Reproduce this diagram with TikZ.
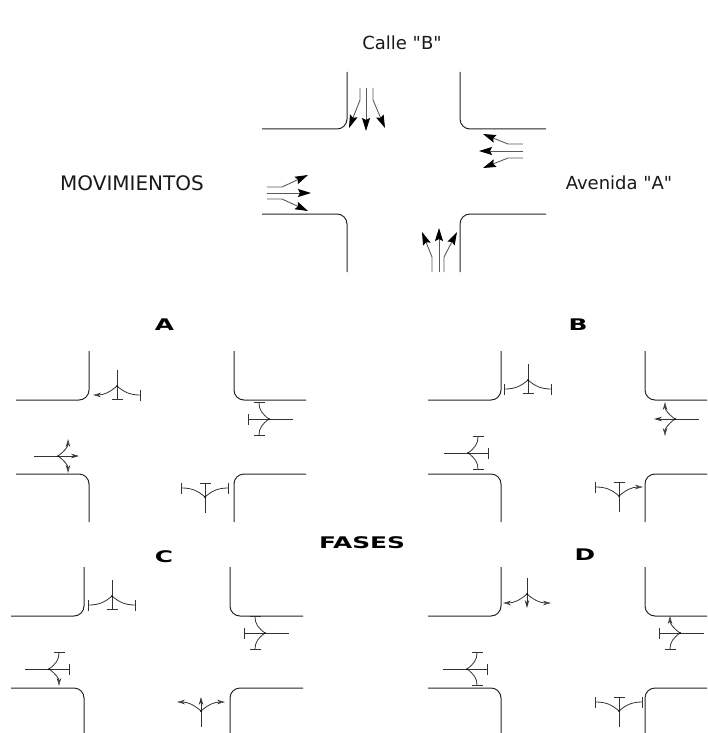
\documentclass[tikz,border=0pt]{standalone}
\usepackage{fontspec}
\setmainfont{DejaVu Sans}[Ligatures=TeXOff]
\usetikzlibrary{arrows.meta}

\tikzset{
    x=1pt, y=-1pt,
    calle/.style={draw=black!85, line width=1pt, rounded corners=10pt},
    flujo/.style={draw=black!65, line width=0.9pt, -{Stealth[length=13pt,width=8pt,inset=2pt,color=black]}},
    ramal/.style={draw=black!80, line width=0.8pt},
    stp/.style={-{Bar[width=11pt,line width=1pt]}},
    mov/.style={-{Stealth[length=8pt,width=4.5pt,open,line width=0.7pt]}},
    fil/.style={-{Stealth[length=8pt,width=4.5pt]}},
    rotulo/.style={font=\fontsize{18}{20}\selectfont, text=black!90, inner sep=0pt},
    fase/.style={font=\fontsize{16}{18}\selectfont\bfseries, xscale=1.55, inner sep=0pt},
}

% streets: x left, x inner left, x inner right, x right, y top, y inner top, y inner bottom, y bottom
\newcommand{\calles}[8]{
    \draw[calle] (#1,#6) -- (#2,#6) -- (#2,#5);
    \draw[calle] (#3,#5) -- (#3,#6) -- (#4,#6);
    \draw[calle] (#1,#7) -- (#2,#7) -- (#2,#8);
    \draw[calle] (#3,#8) -- (#3,#7) -- (#4,#7);
}

% phase fork: position, angle, stem, straight, forward, lateral, left end, straight end, right end
\newcommand{\horquilla}[9]{
    \begin{scope}[shift={(#1)}, rotate=#2]
        \draw[ramal] (-#3,0) -- (0,0);
        \draw[ramal, #8] (0,0) -- (#4,0);
        \draw[ramal, #7] (0,0) .. controls (0.7*#5,-0.3*#6) and (#5,-0.55*#6) .. (#5,-#6);
        \draw[ramal, #9] (0,0) .. controls (0.7*#5,0.3*#6) and (#5,0.55*#6) .. (#5,#6);
        \fill[black] (0,0) circle (1pt);
    \end{scope}
}
\newcommand{\fv}[5]{\horquilla{#1}{#2}{16}{14}{9}{24}{#3}{#4}{#5}}
\newcommand{\fh}[5]{\horquilla{#1}{#2}{24}{21}{10}{17}{#3}{#4}{#5}}

\begin{document}
\begin{tikzpicture}
    \useasboundingbox (0,0) rectangle (707,733);
    \clip (0,0) rectangle (707,733);

    % Movements
    \node[rotulo] (calleb) at (402,43) {Calle "B"};
    \node[rotulo, font=\fontsize{20}{22}\selectfont] (movimientos) at (132,183) {MOVIMIENTOS};
    \node[rotulo] (avenidaa) at (619,183) {Avenida "A"};

    \calles{262}{347}{460}{546}{72}{129}{214}{272}

    \draw[flujo] (360,88) -- (360,100) -- (349,128);
    \draw[flujo] (366,88) -- (366,131);
    \draw[flujo] (373,88) -- (373,100) -- (385,128);

    \draw[flujo] (523,144) -- (508,144) -- (483,134);
    \draw[flujo] (523,151) -- (479,151);
    \draw[flujo] (523,158) -- (508,158) -- (483,168);

    \draw[flujo] (267,187) -- (282,187) -- (308,175);
    \draw[flujo] (267,193) -- (311,193);
    \draw[flujo] (267,199) -- (282,199) -- (308,211);

    \draw[flujo] (432,272) -- (432,257) -- (422,232);
    \draw[flujo] (439,272) -- (439,228);
    \draw[flujo] (444,272) -- (444,257) -- (457,232);

    % Phases
    \node[fase] (fases) at (362,543) {FASES};
    \node[fase] (fasea) at (164.5,325) {A};
    \node[fase] (faseb) at (578,325) {B};
    \node[fase] (fasec) at (164,557) {C};
    \node[fase] (fased) at (585,555) {D};

    % phase A
    \calles{16}{89}{234}{306}{351}{400}{474}{522}
    \fv{117,386}{-90}{stp}{stp}{mov}
    \fh{269,419}{180}{stp}{stp}{stp}
    \fh{58,456}{0}{mov}{fil}{mov}
    \fv{205,497}{90}{stp}{stp}{stp}

    % phase B
    \calles{428}{501}{645}{720}{351}{400}{474}{522}
    \fv{528,380}{-90}{stp}{stp}{stp}
    \fh{675,419}{180}{mov}{fil}{mov}
    \fh{468,453}{0}{stp}{stp}{stp}
    \fv{619,496}{90}{stp}{stp}{mov}

    % phase C
    \calles{11}{84}{230}{303}{567}{616}{688}{745}
    \fv{112,596}{-90}{stp}{stp}{stp}
    \fh{265,633}{180}{stp}{stp}{stp}
    \fh{49,669}{0}{stp}{stp}{mov}
    \fv{201,711}{90}{mov}{fil}{mov}

    % phase D
    \calles{428}{501}{645}{720}{567}{616}{688}{745}
    \fv{527,594}{-90}{mov}{fil}{mov}
    \fh{680,633}{180}{stp}{stp}{mov}
    \fh{467,669}{0}{stp}{stp}{stp}
    \fv{619,711}{90}{stp}{stp}{stp}
\end{tikzpicture}
\end{document}
